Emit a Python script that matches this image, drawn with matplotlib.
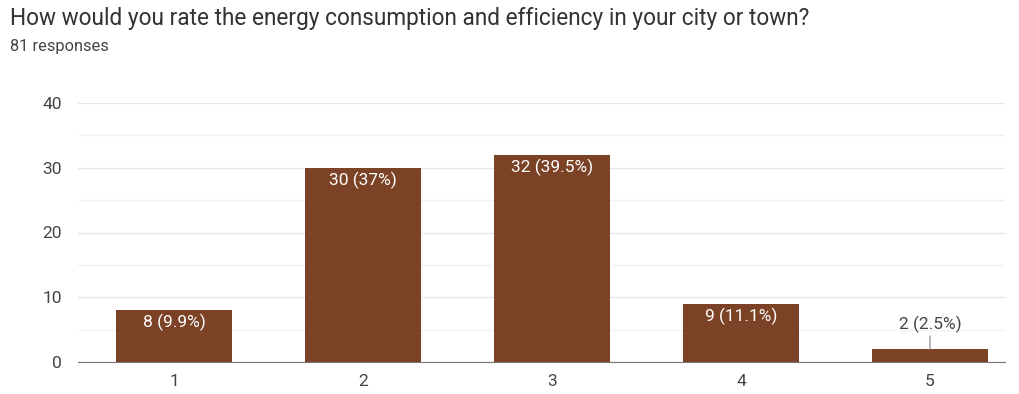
import matplotlib.pyplot as plt
import numpy as np

plt.rcParams['font.family'] = ['Roboto', 'DejaVu Sans']

# survey answers: rating -> number of responses
ratings = ['1', '2', '3', '4', '5']
counts = [8, 30, 32, 9, 2]
pct_labels = ['8 (9.9%)', '30 (37%)', '32 (39.5%)', '9 (11.1%)', '2 (2.5%)']

bar_color = '#7b4226'

fig = plt.figure(figsize=(10.2, 3.94), dpi=100)
ax = fig.add_axes([78 / 1020, 32 / 394, 927 / 1020, 259 / 394])

x = np.arange(len(ratings))
bars = ax.bar(x, counts, width=0.615, color=bar_color, zorder=3)

ax.set_ylim(0, 40)
ax.set_xlim(-0.508, 4.397)
ax.set_yticks([0, 10, 20, 30, 40])
ax.set_yticks([5, 15, 25, 35], minor=True)
ax.set_xticks(x)
ax.set_xticklabels(ratings)
ax.grid(axis='y', which='major', color='#e6e6e6', linewidth=1, zorder=0)
ax.grid(axis='y', which='minor', color='#f2f2f2', linewidth=1, zorder=0)
ax.tick_params(axis='both', which='both', length=0, labelsize=12.5, labelcolor='#444444')
ax.tick_params(axis='y', pad=11.5)
ax.tick_params(axis='x', pad=9)
for side in ['top', 'right', 'left']:
    ax.spines[side].set_visible(False)
ax.spines['bottom'].set_color('#777777')
ax.spines['bottom'].set_zorder(4)

# value labels: inside the bar when it is tall enough, otherwise above with a leader line
for xi, c, lab in zip(x, counts, pct_labels):
    if c >= 5:
        ax.annotate(lab, (xi, c), xytext=(0, -9), textcoords='offset points',
                    ha='center', va='center', color='white', fontsize=12.5, zorder=5)
    else:
        ax.annotate(lab, (xi, c), xytext=(0, 17.5), textcoords='offset points',
                    ha='center', va='center', color='#444444', fontsize=12.5, zorder=5,
                    arrowprops=dict(arrowstyle='-', color='#999999', lw=1,
                                    shrinkA=0, shrinkB=0))

fig.text(10 / 1020, 1 - 18 / 394, 'How would you rate the energy consumption and efficiency in your city or town?',
         fontsize=16.3, color='#333333', va='center', ha='left')
fig.text(10 / 1020, 1 - 47 / 394, '81 responses', fontsize=11.8, color='#444444', va='center', ha='left')

fig.savefig('out.png', dpi=100)
